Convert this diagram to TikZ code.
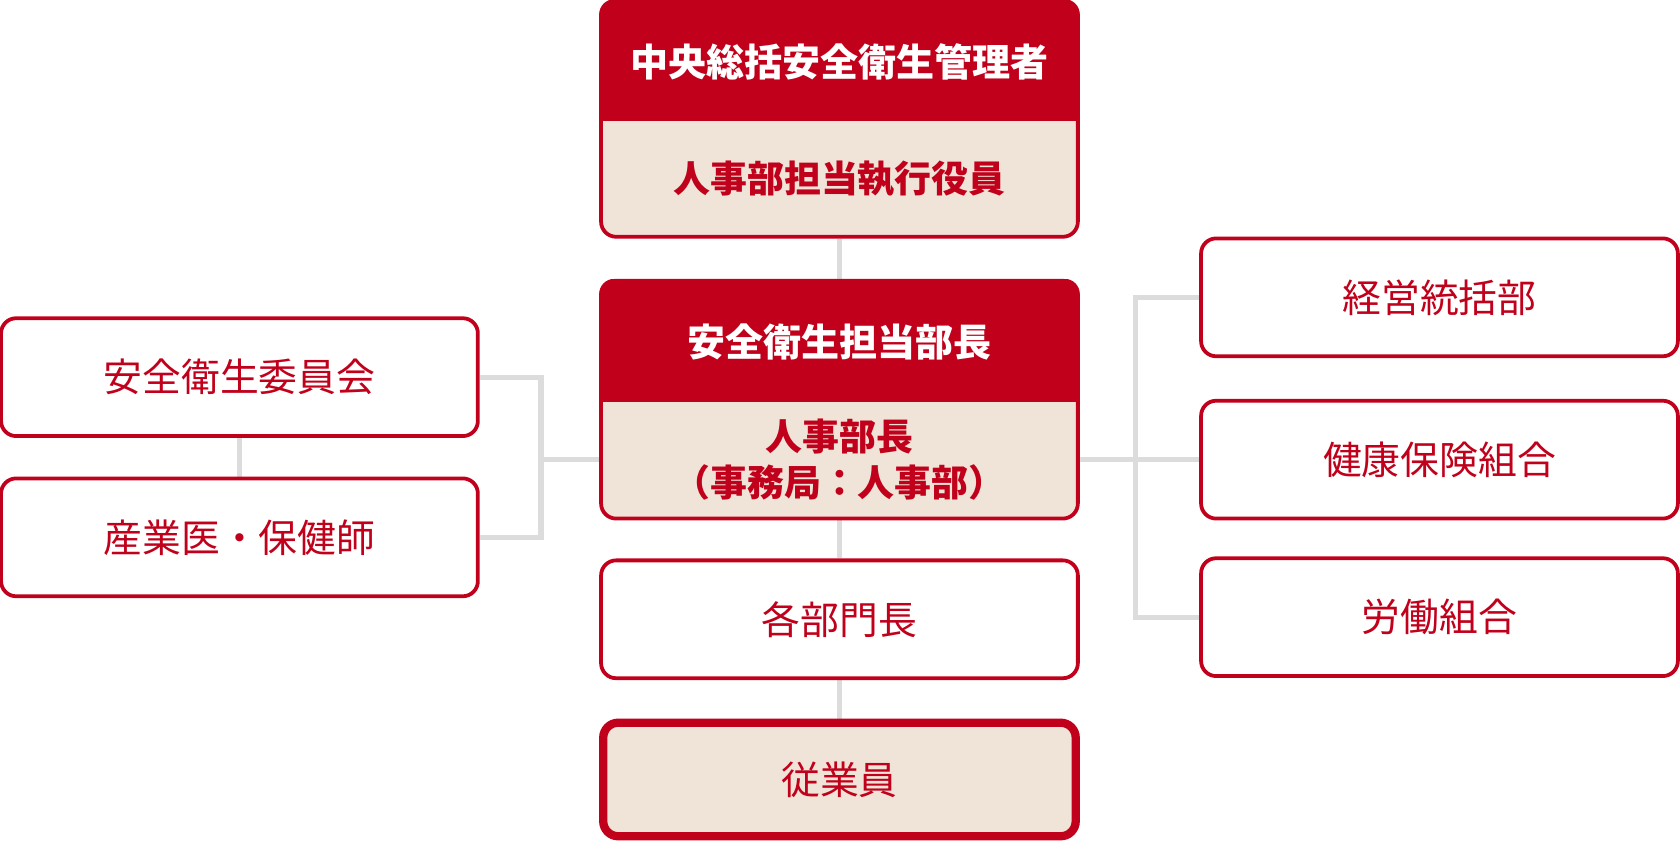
\documentclass[tikz,border=0pt]{standalone}
\usepackage{fontspec}
\setmainfont{Noto Sans CJK JP}
\usepackage{tikz}
\usetikzlibrary{backgrounds}
\definecolor{jred}{HTML}{C1001B}
\definecolor{jbeige}{HTML}{F0E4D8}
\definecolor{jgray}{HTML}{DCDCDC}
\begin{document}
\begin{tikzpicture}
\tikzstyle{box}=[rectangle,rounded corners=4pt,draw=jred,line width=1pt,fill=white,minimum width=4.45cm,minimum height=1.1cm,inner sep=0pt,text=jred,font=\fontsize{10.3}{12}\selectfont]
\tikzstyle{bigbox}=[box,fill=jbeige,minimum height=2.2cm]
\tikzstyle{lastbox}=[box,fill=jbeige,line width=2.2pt,minimum width=4.41cm,minimum height=1.06cm]
\tikzstyle{head}=[minimum width=4.45cm,inner sep=0pt,text=white,font=\bfseries\fontsize{10.1}{12}\selectfont]
\tikzstyle{sub}=[minimum width=4.45cm,inner sep=0pt,align=center,text=jred,font=\bfseries\fontsize{9.8}{12}\selectfont]
\tikzstyle{link}=[draw=jgray,line width=1.4pt]
\useasboundingbox (0,0) rectangle (15.68,7.84);
\node[bigbox] (kanri) at (7.835,6.73) {};
\begin{scope}
\clip[rounded corners=4pt] (kanri.north west) rectangle (kanri.south east);
\fill[jred] (kanri.north west) rectangle ([yshift=-1.14cm]kanri.north east);
\end{scope}
\node[head] (kanrihd) at (7.835,7.26) {中央総括安全衛生管理者};
\node[sub] (kanrisub) at (7.835,6.17) {人事部担当執行役員};
\node[bigbox,minimum height=2.22cm] (tanto) at (7.835,4.11) {};
\begin{scope}
\clip[rounded corners=4pt] (tanto.north west) rectangle (tanto.south east);
\fill[jred] (tanto.north west) rectangle ([yshift=-1.15cm]tanto.north east);
\end{scope}
\node[head] (tantohd) at (7.835,4.645) {安全衛生担当部長};
\node[sub] (tantosub) at (7.835,3.55) {人事部長\\（事務局：人事部）};
\node[box] (bumon) at (7.835,2.06) {各部門長};
\node[lastbox] (jugyoin) at (7.835,0.565) {従業員};
\node[box] (iinkai) at (2.235,4.32) {安全衛生委員会};
\node[box] (sangyo) at (2.235,2.825) {産業医・保健師};
\node[box] (keiei) at (13.435,5.065) {経営統括部};
\node[box] (kenpo) at (13.435,3.55) {健康保険組合};
\node[box] (rodo) at (13.435,2.08) {労働組合};
\coordinate (lj) at (5.05,3.55);
\coordinate (rj) at (10.6,3.55);
\begin{scope}[on background layer]
\draw[link] (kanri) -- (tanto);
\draw[link] (tanto) -- (bumon);
\draw[link] (bumon) -- (jugyoin);
\draw[link] (iinkai) -- (sangyo);
\draw[link] (iinkai.east) -| (lj) |- (sangyo.east);
\draw[link] (lj) -- (tantosub.west);
\draw[link] (keiei.west) -| (rj) |- (rodo.west);
\draw[link] (tantosub.east) -- (kenpo.west);
\end{scope}
\end{tikzpicture}
\end{document}
